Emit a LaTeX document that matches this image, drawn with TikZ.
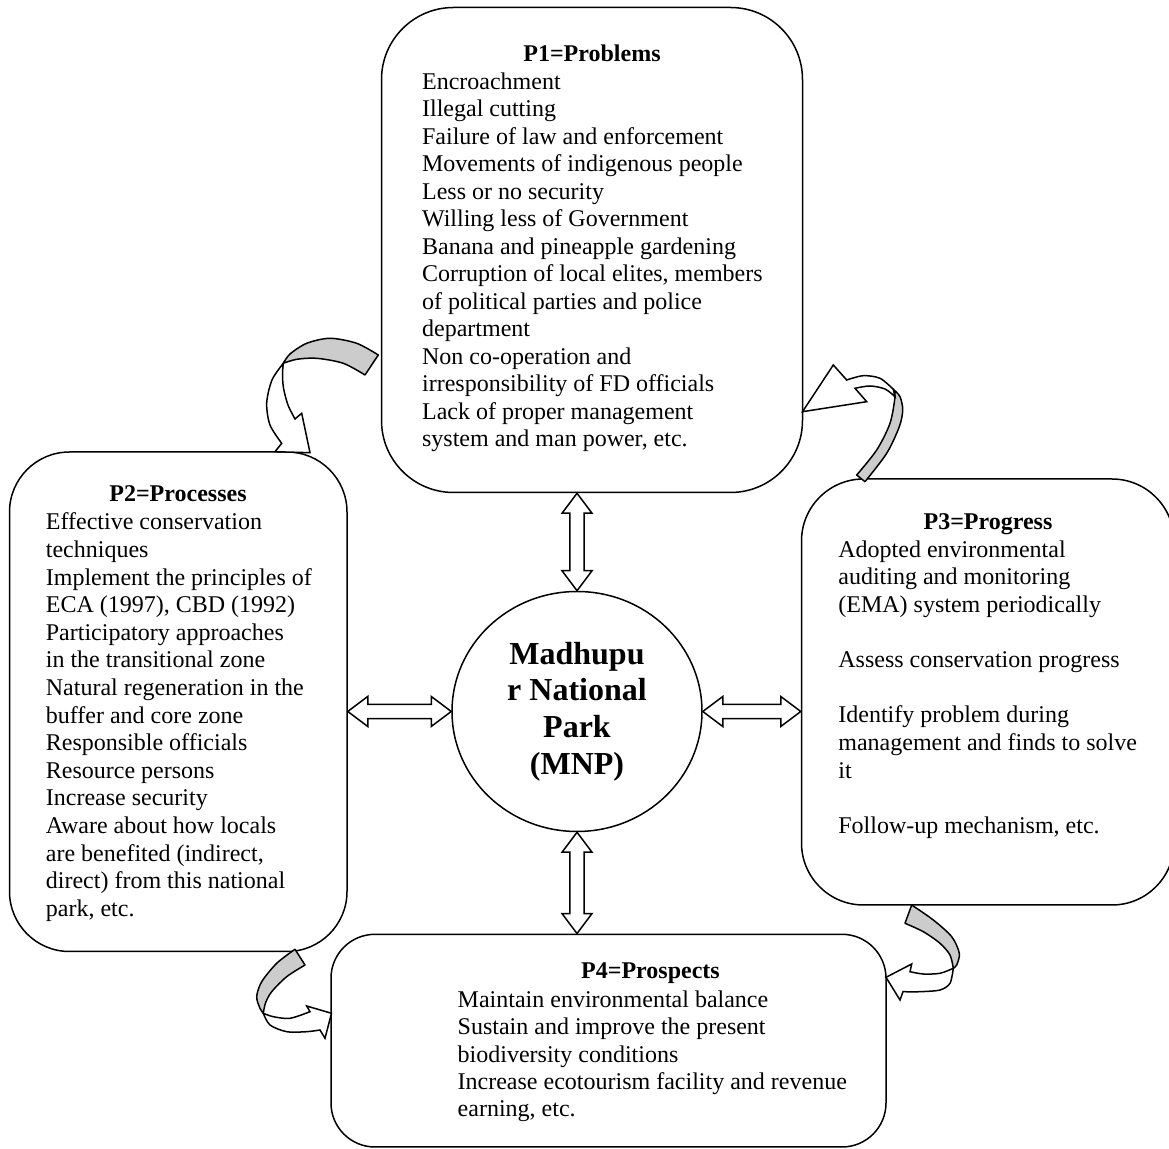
\documentclass[tikz,border=0pt]{standalone}
\usepackage{fontspec}
\setmainfont{Liberation Serif}
\usetikzlibrary{calc,shapes.geometric}
\newcommand{\boxlines}[1]{\begin{tabular}[t]{@{}l@{}}#1\end{tabular}}
\begin{document}
\begin{tikzpicture}[x=0.5pt,y=-0.5pt,
  box/.style={draw, line width=0.75pt, rectangle, inner sep=0pt},
  ttl/.style={font=\fontsize{12}{13.8}\selectfont\bfseries, inner sep=0pt, anchor=base},
  txt/.style={inner sep=0pt, anchor=base west},
  blk/.style={draw, fill=white, line width=0.75pt, line join=miter},
  cgray/.style={draw, fill=gray!40, line width=0.75pt, line join=round},
  cwhite/.style={draw, fill=white, line width=0.75pt, line join=miter}]
\useasboundingbox (0,0) rectangle (1169,1149);

% boxes
\node[box, rounded corners=36pt, minimum width=210.5pt, minimum height=242.5pt] (p1) at (592,250) {};
\node[box, rounded corners=30pt, minimum width=168.75pt, minimum height=249.75pt] (p2) at (178.25,701.75) {};
\node[box, rounded corners=31pt, minimum width=186.25pt, minimum height=213pt] (p3) at (987.75,692) {};
\node[box, rounded corners=22pt, minimum width=277.5pt, minimum height=106.35pt] (p4) at (608.5,1040.65) {};
\node[draw, ellipse, line width=0.75pt, minimum width=125pt, minimum height=120pt, inner sep=0pt,
      align=center, font=\fontsize{16}{18.35}\selectfont\bfseries] (mnp) at (577,711.5)
      {Madhupu\\r National\\Park\\(MNP)};

% texts
\node[ttl] (p1t) at (592,61.7) {P1=Problems};
\node[txt, font=\fontsize{12}{13.75}\selectfont] (p1b) at (421.7,89.3) {\boxlines{
Encroachment\\
Illegal cutting\\
Failure of law and enforcement\\
Movements of indigenous people\\
Less or no security\\
Willing less of Government\\
Banana and pineapple gardening\\
Corruption of local elites, members\\
of political parties and police\\
department\\
Non co-operation and\\
irresponsibility of FD officials\\
Lack of proper management\\
system and man power, etc.}};

\node[ttl] (p2t) at (178,502) {P2=Processes};
\node[txt, font=\fontsize{12}{13.8}\selectfont] (p2b) at (45.5,530) {\boxlines{
Effective conservation\\
techniques\\
Implement the principles of\\
ECA (1997), CBD (1992)\\
Participatory approaches\\
in the transitional zone\\
Natural regeneration in the\\
buffer and core zone\\
Responsible officials\\
Resource persons\\
Increase security\\
Aware about how locals\\
are benefited (indirect,\\
direct) from this national\\
park, etc.}};

\node[ttl] (p3t) at (988,529.3) {P3=Progress};
\node[txt, font=\fontsize{12}{13.8}\selectfont] (p3b) at (838,557.3) {\boxlines{
Adopted environmental\\
auditing and monitoring\\
(EMA) system periodically\\
\\
Assess conservation progress\\
\\
Identify problem during\\
management and finds to solve\\
it\\
\\
Follow-up mechanism, etc.}};

\node[ttl] (p4t) at (650.5,979) {P4=Prospects};
\node[txt, font=\fontsize{12}{13.7}\selectfont] (p4b) at (457.3,1007.3) {\boxlines{
Maintain environmental balance\\
Sustain and improve the present\\
biodiversity conditions\\
Increase ecotourism facility and revenue\\
earning, etc.}};

% double block arrows
\draw[blk] let \p1=(p1.south), \p2=(mnp.north) in
  (\x2,\y1) -- (\x2+7.5pt,\y1-10pt) -- (\x2+3.6pt,\y1-10pt) -- (\x2+3.6pt,\y2+10pt) -- (\x2+7.5pt,\y2+10pt)
  -- (\x2,\y2) -- (\x2-7.5pt,\y2+10pt) -- (\x2-3.6pt,\y2+10pt) -- (\x2-3.6pt,\y1-10pt) -- (\x2-7.5pt,\y1-10pt) -- cycle;
\draw[blk] let \p1=(mnp.south), \p2=(p4.north) in
  (\x1,\y1) -- (\x1+7.5pt,\y1-10pt) -- (\x1+3.6pt,\y1-10pt) -- (\x1+3.6pt,\y2+10pt) -- (\x1+7.5pt,\y2+10pt)
  -- (\x1,\y2) -- (\x1-7.5pt,\y2+10pt) -- (\x1-3.6pt,\y2+10pt) -- (\x1-3.6pt,\y1-10pt) -- (\x1-7.5pt,\y1-10pt) -- cycle;
\draw[blk] let \p1=(p2.east), \p2=(mnp.west) in
  (\x1,\y2) -- (\x1+10pt,\y2+7.5pt) -- (\x1+10pt,\y2+3.6pt) -- (\x2-10pt,\y2+3.6pt) -- (\x2-10pt,\y2+7.5pt)
  -- (\x2,\y2) -- (\x2-10pt,\y2-7.5pt) -- (\x2-10pt,\y2-3.6pt) -- (\x1+10pt,\y2-3.6pt) -- (\x1+10pt,\y2-7.5pt) -- cycle;
\draw[blk] let \p1=(mnp.east), \p2=(p3.west) in
  (\x1,\y1) -- (\x1+10pt,\y1+7.5pt) -- (\x1+10pt,\y1+3.6pt) -- (\x2-10pt,\y1+3.6pt) -- (\x2-10pt,\y1+7.5pt)
  -- (\x2,\y1) -- (\x2-10pt,\y1-7.5pt) -- (\x2-10pt,\y1-3.6pt) -- (\x1+10pt,\y1-3.6pt) -- (\x1+10pt,\y1-7.5pt) -- cycle;

% curved arrow: P1 -> P2 (top left)
\draw[cgray] plot[smooth] coordinates {(378.3,355) (356.7,343.3) (330,338.3) (306.7,343.3) (290,354) (283.3,363.3)}
  -- plot[smooth] coordinates {(283.3,363.3) (296.7,359.3) (316.7,358.3) (343.3,363.3) (365,375)} -- cycle;
\draw[cwhite] plot[smooth] coordinates {(283.3,363.3) (272,380) (266.7,403) (270,425) (281.7,443.3)}
  -- (275,451.7) -- (310,452.7) -- (301.7,413.3) -- (295,419)
  -- plot[smooth] coordinates {(295,419) (288,405) (283.5,388) (282.5,374) (283.3,363.3)} -- cycle;

% curved arrow: P3 -> P1 (top right)
\draw[cgray] (856.7,475) -- plot[smooth] coordinates {(865,481.7) (886.7,453.3) (899.3,426.7) (902.7,410) (900,396.7) (893.3,389.3)}
  -- plot[smooth] coordinates {(893.3,389.3) (895,396.7) (890,423.3) (876.7,450) (856.7,475)} -- cycle;
\draw[cwhite] plot[smooth] coordinates {(893.3,389.3) (880,378.3) (863.3,375.7) (846.7,380)}
  -- (833.3,365) -- (802.5,411.7) -- (866.7,401.7) -- (855,388.3)
  -- plot[smooth] coordinates {(855,388.3) (870,386) (885,389) (895,396.7)} -- cycle;

% curved arrow: P2 -> P4 (bottom left)
\draw[cgray] plot[smooth] coordinates {(295,949.3) (276.7,963.3) (261.7,981.7) (256.7,996.7) (260,1008.3) (263.3,1013.3)}
  -- plot[smooth] coordinates {(263.3,1013.3) (265.5,1003) (271.7,991.7) (286.7,976.7) (305,965)} -- cycle;
\draw[cwhite] plot[smooth] coordinates {(263.3,1013.3) (270,1025) (286.7,1031.7) (306.7,1031.7) (320,1030)}
  -- (325,1038.3) -- (331.5,1013.3) -- (306.7,1006) -- (310,1011.7)
  -- plot[smooth] coordinates {(310,1011.7) (290,1018.3) (273.3,1016.7) (263.3,1013.3)} -- cycle;

% curved arrow: P3 -> P4 (bottom right)
\draw[cgray] plot[smooth] coordinates {(911.7,905) (933.3,920) (951.7,936.7) (959.3,953.3) (956.7,965) (953.3,968.3)}
  -- plot[smooth] coordinates {(953.3,968.3) (950,955) (940,943.3) (923.3,931.7) (905,923.3)} -- cycle;
\draw[cwhite] plot[smooth] coordinates {(953.3,968.3) (950,983.3) (940,990) (920,991.7) (903,991.7)}
  -- (900,1000) -- (886,977.3) -- (911.7,964) -- (910,971.7)
  -- plot[smooth] coordinates {(910,971.7) (923.3,974) (940,973.3) (953.3,968.3)} -- cycle;
\end{tikzpicture}
\end{document}
